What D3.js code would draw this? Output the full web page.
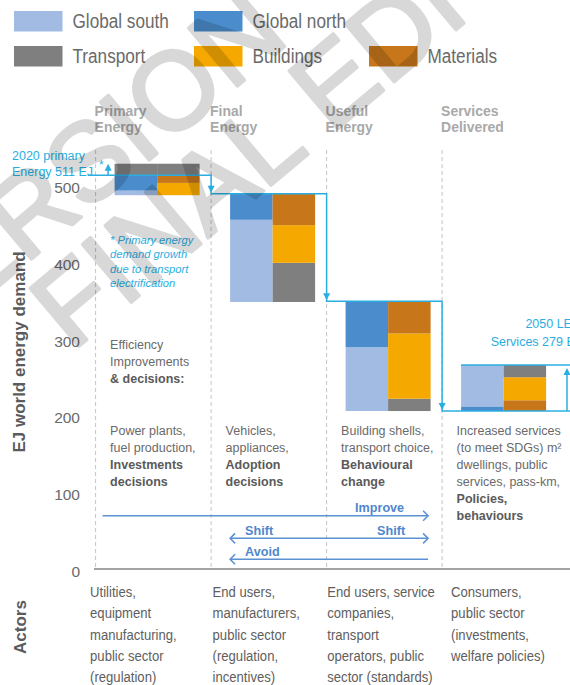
<!DOCTYPE html>
<html>
<head>
<meta charset="utf-8">
<script src="https://cdn.jsdelivr.net/npm/d3@7"></script>
<style>
    body { margin: 0; background: #fff; }
    svg text { font-family: "Liberation Sans", Arial, sans-serif; }
</style>
</head>
<body>
<script>
// ---- data ----
const stages = ["Primary", "Final", "Useful", "Services"];
const stageTitles = [["Primary", "Energy"], ["Final", "Energy"], ["Useful", "Energy"], ["Services", "Delivered"]];

// EJ where each bar starts, then the segments stacked upwards (left column = regions, right column = sectors)
const barBottom = [488, 349, 207, 207];
const regionStacks = [
    [["south", 6], ["north", 20], ["transport", 15]],
    [["south", 107], ["north", 34]],
    [["south", 83], ["north", 60]],
    [["north", 6], ["south", 54]]
];
const sectorStacks = [
    [["buildings", 16], ["materials", 10], ["transport", 15]],
    [["transport", 51], ["buildings", 49], ["materials", 41]],
    [["transport", 16], ["buildings", 85], ["materials", 42]],
    [["materials", 14], ["buildings", 30], ["transport", 16]]
];

// cyan step line levels (EJ) at each stage
const stepLevels = [514, 490, 350, 207];
const ledLevel = 267;
const yTicks = [0, 100, 200, 300, 400, 500];

const legendRows = [
    [["south", "Global south"], ["north", "Global north"]],
    [["transport", "Transport"], ["buildings", "Buildings"], ["materials", "Materials"]]
];

const leverIntro = [["Efficiency", false], ["Improvements", false], ["& decisions:", true]];
const leverText = [
    [["Power plants,", false], ["fuel production,", false], ["Investments", true], ["decisions", true]],
    [["Vehicles,", false], ["appliances,", false], ["Adoption", true], ["decisions", true]],
    [["Building shells,", false], ["transport choice,", false], ["Behavioural", true], ["change", true]],
    [["Increased services", false], ["(to meet SDGs) m\u00B2", false], ["dwellings, public", false],
     ["services, pass-km,", false], ["Policies,", true], ["behaviours", true]]
];

const actorText = [
    ["Utilities,", "equipment", "manufacturing,", "public sector", "(regulation)"],
    ["End users,", "manufacturers,", "public sector", "(regulation,", "incentives)"],
    ["End users, service", "companies,", "transport", "operators, public", "sector (standards)"],
    ["Consumers,", "public sector", "(investments,", "welfare policies)"]
];

// Improve / Shift / Avoid arrows: from stage, to stage, level (EJ), arrow heads
const strategies = [
    { label: "Improve", from: 0, to: 3, level: 70.6, heads: "end" },
    { label: "Shift", from: 1, to: 3, level: 41.2, heads: "both" },
    { label: "Avoid", from: 1, to: 3, level: 13.9, heads: "start" }
];

const noteLines = ["* Primary energy", "demand growth", "due to transport", "electrification"];

// ---- setup ----
const width = 570, height = 685;
const cyan = "#2aaee2", arrowBlue = "#5b91d3", greyText = "#6a6a6a";
const condensed = "scale(0.85,1)";  // stand-in for the condensed face of the original

const svg = d3.select("body").append("svg")
    .attr("width", width)
    .attr("height", height);

const y = d3.scaleLinear().domain([0, 500]).range([570, 186]);
const x = d3.scaleBand().domain(stages).range([95.6, 557.6]);
const colour = d3.scaleOrdinal()
    .domain(["south", "north", "transport", "buildings", "materials"])
    .range(["#a2bbe2", "#4b8dcc", "#7f7f7f", "#f5a800", "#c7771a"]);

const barInset = 19, half = 42.5;

// legend
const legendX = [14, 194, 369];
legendRows.forEach((row, r) => {
    const g = svg.append("g").attr("transform", `translate(0,${11 + r * 35})`);
    const item = g.selectAll("g").data(row).enter().append("g")
        .attr("transform", (d, i) => `translate(${legendX[i]},0)`);
    item.append("rect")
        .attr("width", 48.5).attr("height", 20.5)
        .attr("fill", d => colour(d[0]));
    item.append("text")
        .attr("transform", `translate(58.5,17.2) ${condensed}`)
        .attr("font-size", 20.2)
        .attr("fill", greyText)
        .text(d => d[1]);
});

// stage headers
stages.forEach((s, i) => {
    svg.append("text")
        .attr("transform", `translate(${x(s) - 1},116) scale(0.9,1)`)
        .attr("font-size", 15.5).attr("font-weight", "bold")
        .attr("fill", "#a9a9a9")
        .selectAll("tspan").data(stageTitles[i]).enter().append("tspan")
        .attr("x", 0)
        .attr("y", (d, j) => j * 16)
        .text(d => d);
});

// dashed column separators
svg.selectAll("line.sep").data(stages).enter().append("line")
    .attr("class", "sep")
    .attr("x1", d => x(d)).attr("x2", d => x(d))
    .attr("y1", 150).attr("y2", 567)
    .attr("stroke", "#c4c4c4")
    .attr("stroke-dasharray", "4,3");

// axis baseline + tick labels
svg.append("line")
    .attr("x1", 94).attr("x2", width)
    .attr("y1", y(0) - 1).attr("y2", y(0) - 1)
    .attr("stroke", "#a3a3a3").attr("stroke-width", 2.2);

svg.selectAll("text.tick").data(yTicks).enter().append("text")
    .attr("class", "tick")
    .attr("x", 80).attr("y", d => y(d) + 7)
    .attr("text-anchor", "end")
    .attr("font-size", 15.5)
    .attr("fill", greyText)
    .text(d => d);

svg.append("text")
    .attr("transform", "translate(25,352) rotate(-90)")
    .attr("text-anchor", "middle")
    .attr("font-size", 17).attr("font-weight", "bold")
    .attr("fill", "#5a5b5d")
    .text("EJ world energy demand");

svg.append("text")
    .attr("transform", "translate(26,627) rotate(-90)")
    .attr("text-anchor", "middle")
    .attr("font-size", 17).attr("font-weight", "bold")
    .attr("fill", "#5a5b5d")
    .text("Actors");

// stacked bars
const segments = [];
stages.forEach((s, i) => {
    [regionStacks[i], sectorStacks[i]].forEach((stack, side) => {
        let base = barBottom[i];
        stack.forEach(([cat, v]) => {
            segments.push({ stage: s, side: side, cat: cat, y0: base, y1: base + v });
            base += v;
        });
    });
});

svg.selectAll("rect.seg").data(segments).enter().append("rect")
    .attr("class", "seg")
    .attr("x", d => x(d.stage) + barInset + d.side * half)
    .attr("y", d => y(d.y1))
    .attr("width", half)
    .attr("height", d => y(d.y0) - y(d.y1))
    .attr("fill", d => colour(d.cat));

// cyan step line
const stepPoints = [[88, y(stepLevels[0])]];
for (let i = 1; i < stages.length; i++) {
    stepPoints.push([x(stages[i]), y(stepLevels[i - 1])]);
    stepPoints.push([x(stages[i]), y(stepLevels[i])]);
}
stepPoints.push([width, y(stepLevels[stepLevels.length - 1])]);

svg.append("path")
    .attr("d", d3.line()(stepPoints))
    .attr("fill", "none")
    .attr("stroke", cyan)
    .attr("stroke-width", 1.5);

function tri(cx, tipY, dir) {
    // dir 1 = pointing down, -1 = pointing up
    return `M${cx - 3.5},${tipY - dir * 7}L${cx + 3.5},${tipY - dir * 7}L${cx},${tipY}Z`;
}

svg.selectAll("path.down").data(stages.slice(1)).enter().append("path")
    .attr("class", "down")
    .attr("d", (d, i) => tri(x(d), y(stepLevels[i + 1]) - 1, 1))
    .attr("fill", cyan);

// primary growth arrow
const growthX = x("Primary") + 12.5;
svg.append("line")
    .attr("x1", growthX).attr("x2", growthX)
    .attr("y1", y(stepLevels[0])).attr("y2", y(526))
    .attr("stroke", cyan).attr("stroke-width", 1.5);
svg.append("path").attr("d", tri(growthX, y(529), -1)).attr("fill", cyan);
svg.append("text")
    .attr("x", growthX - 9).attr("y", y(522))
    .attr("font-size", 12).attr("fill", cyan)
    .text("*");

// 2050 LED line
const ledX = width - 3;
svg.append("line")
    .attr("x1", x("Services") + barInset).attr("x2", width)
    .attr("y1", y(ledLevel)).attr("y2", y(ledLevel))
    .attr("stroke", cyan).attr("stroke-width", 1.5);
svg.append("line")
    .attr("x1", ledX).attr("x2", ledX)
    .attr("y1", y(stepLevels[3])).attr("y2", y(ledLevel - 8))
    .attr("stroke", cyan).attr("stroke-width", 1.5);
svg.append("path").attr("d", tri(ledX, y(ledLevel) + 3, -1)).attr("fill", cyan);

// cyan annotations
svg.append("text")
    .attr("font-size", 12.5).attr("fill", cyan)
    .selectAll("tspan").data(["2020 primary", "Energy 511 EJ"]).enter().append("tspan")
    .attr("x", 12).attr("y", (d, i) => 160 + i * 15.5)
    .text(d => d);

svg.append("text")
    .attr("font-size", 12.5).attr("fill", cyan)
    .attr("text-anchor", "end")
    .selectAll("tspan").data(["2050 LED", "Services 279 EJ"]).enter().append("tspan")
    .attr("x", 581).attr("y", (d, i) => 328 + i * 17.5)
    .text(d => d);

svg.append("text")
    .attr("font-size", 11.2).attr("font-style", "italic").attr("fill", cyan)
    .selectAll("tspan").data(noteLines).enter().append("tspan")
    .attr("x", 110).attr("y", (d, i) => 244 + i * 14.3)
    .text(d => d);

// lever descriptions
function block(lines, x0, y0, lh) {
    svg.append("text")
        .attr("font-size", 12.5).attr("fill", greyText)
        .selectAll("tspan").data(lines).enter().append("tspan")
        .attr("x", x0).attr("y", (d, i) => y0 + i * lh)
        .attr("font-weight", d => d[1] ? "bold" : "normal")
        .attr("fill", d => d[1] ? "#5a5a5a" : greyText)
        .text(d => d[0]);
}
block(leverIntro, x("Primary") + 14.5, 348.5, 17);
stages.forEach((s, i) => block(leverText[i], x(s) + 14.5, 435, 17));

// actors
const actorShift = [-5.5, 1.5, 0.7, 9];
stages.forEach((s, i) => {
    svg.append("text")
        .attr("transform", `translate(${x(s) + actorShift[i]},597) ${condensed}`)
        .attr("font-size", 15.4).attr("fill", "#5e5e5e")
        .selectAll("tspan").data(actorText[i]).enter().append("tspan")
        .attr("x", 0).attr("y", (d, j) => j * 21.3)
        .text(d => d);
});

// Improve / Shift / Avoid
const stratG = svg.append("g");
strategies.forEach(st => {
    const x1 = st.from === 0 ? x(stages[0]) + 7 : x(stages[st.from]) + 19;
    const x2 = x(stages[st.to]) - 14;
    const ly = y(st.level);
    stratG.append("line")
        .attr("x1", x1).attr("x2", x2).attr("y1", ly).attr("y2", ly)
        .attr("stroke", arrowBlue).attr("stroke-width", 1.5);
    if (st.heads === "end" || st.heads === "both") {
        stratG.append("path").attr("d", `M${x2 - 5},${ly - 5}L${x2},${ly}L${x2 - 5},${ly + 5}`)
            .attr("fill", "none").attr("stroke", arrowBlue).attr("stroke-width", 1.5);
    }
    if (st.heads === "start" || st.heads === "both") {
        stratG.append("path").attr("d", `M${x1 + 5},${ly - 5}L${x1},${ly}L${x1 + 5},${ly + 5}`)
            .attr("fill", "none").attr("stroke", arrowBlue).attr("stroke-width", 1.5);
    }
    const label = (tx, anchor) => stratG.append("text")
        .attr("x", tx).attr("y", ly - 3.5)
        .attr("text-anchor", anchor)
        .attr("font-size", 12.6).attr("font-weight", "bold")
        .attr("fill", "#4f87cc")
        .text(st.label);
    if (st.label === "Improve") label(x2 - 24, "end");
    if (st.label === "Shift") { label(x1 + 15, "start"); label(x2 - 23, "end"); }
    if (st.label === "Avoid") label(x1 + 15, "start");
});

// draft watermark
const wm = svg.append("g").attr("fill", "#000").attr("stroke", "#000")
    .attr("stroke-width", 3.5).attr("stroke-linejoin", "round")
    .attr("opacity", 0.15)
    .attr("font-size", 110);
[["VERSION", -88, 359], ["FINAL EDITS", 72, 352]].forEach(([word, wx, wy]) => {
    wm.append("text")
        .attr("transform", `translate(${wx},${wy}) rotate(-40)`)
        .text(word);
});
</script>
</body>
</html>
